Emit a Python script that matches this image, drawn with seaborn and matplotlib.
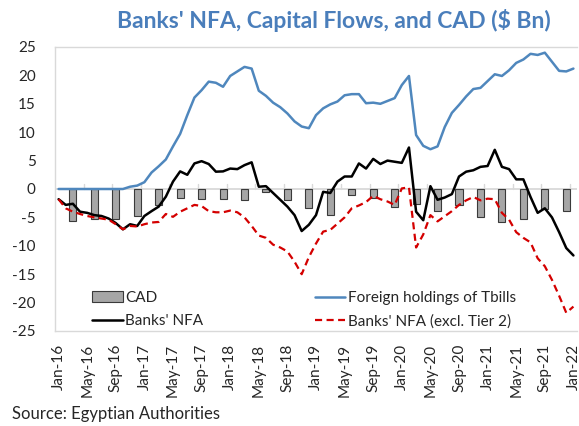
import numpy as np
import pandas as pd
import seaborn as sns
import matplotlib.pyplot as plt
from matplotlib.patches import Patch
from matplotlib.lines import Line2D

# monthly data, Jan-16 .. Jan-22 ($ Bn)
months = pd.date_range("2016-01-01", periods=73, freq="MS")
month_labels = [m.strftime("%b-%y") for m in months]

tbills = [0.0, 0.0, 0.0, 0.0, 0.0, 0.0, 0.0, 0.0, 0.0, 0.0,
          0.4, 0.6, 1.2, 2.9, 4.0, 5.2, 7.5, 9.7, 13.0, 16.1,
          17.4, 18.9, 18.7, 18.0, 19.9, 20.7, 21.5, 21.2, 17.3, 16.4,
          15.2, 14.4, 13.3, 11.9, 11.0, 10.7, 13.0, 14.2, 14.9, 15.4,
          16.5, 16.7, 16.7, 15.1, 15.2, 15.0, 15.5, 16.0, 18.3, 19.9,
          9.5, 7.6, 7.0, 7.5, 10.9, 13.4, 14.8, 16.3, 17.6, 17.8,
          19.0, 20.2, 19.9, 20.9, 22.2, 22.8, 23.8, 23.6, 24.0, 22.4,
          20.8, 20.7, 21.2]

banks_nfa = [-1.8, -2.8, -2.6, -4.0, -4.2, -4.6, -4.75, -5.2, -6.0, -7.1,
             -6.2, -6.5, -4.75, -3.9, -3.1, -1.35, 1.3, 3.1, 2.5, 4.5,
             4.9, 4.4, 3.05, 3.1, 3.6, 3.5, 4.2, 4.7, 0.4, 0.5,
             -0.7, -1.9, -3.1, -4.6, -7.4, -6.3, -4.6, -0.5, -0.7, 1.3,
             2.2, 2.2, 4.5, 3.6, 5.3, 4.4, 5.0, 4.8, 4.6, 7.3,
             -4.0, -5.5, 0.5, -1.9, -1.5, -0.9, 2.2, 3.05, 3.3, 3.9,
             4.05, 6.9, 3.9, 3.5, 1.7, 1.7, -1.4, -4.2, -3.4, -5.0,
             -7.6, -10.4, -11.7]

banks_nfa_ex_t2 = [-1.8, -3.4, -4.0, -4.4, -4.75, -5.0, -5.2, -5.4, -6.2, -7.1,
                   -6.5, -6.6, -6.2, -5.9, -5.8, -4.4, -4.9, -4.0, -3.4, -2.8,
                   -3.0, -3.9, -4.1, -4.1, -3.8, -4.1, -5.0, -6.5, -8.2, -8.6,
                   -9.8, -10.3, -11.0, -12.8, -15.0, -12.0, -9.6, -7.5, -7.2, -6.1,
                   -5.0, -3.4, -2.9, -2.3, -1.2, -1.8, -2.2, -2.8, 0.1, 0.3,
                   -10.3, -8.0, -4.6, -5.7, -4.8, -3.9, -2.8, -2.0, -1.4, -2.0,
                   -1.7, -1.8, -4.2, -5.4, -7.6, -8.6, -9.4, -12.2, -13.6, -16.0,
                   -18.8, -21.8, -20.7]

# quarterly current account deficit (Mar-16 .. Dec-21)
cad_months = list(range(2, 72, 3))
cad = [-5.7, -5.3, -5.3, -4.75, -2.9, -1.5, -1.8, -1.8, -1.9, -0.5,
       -1.9, -3.3, -4.6, -1.1, -1.5, -3.2, -2.7, -3.9, -2.8, -4.9,
       -5.75, -5.2, -3.5, -3.8]

BLUE = "#4f87bd"
RED = "#d40000"
TITLE_BLUE = "#4a7ebb"
GRID = "#d9d9d9"

sns.set_theme(style="white")
plt.rcParams["font.family"] = ["Lato", "DejaVu Sans"]
plt.rcParams["axes.unicode_minus"] = False

fig = plt.figure(figsize=(5.79, 4.26), dpi=100)
ax = fig.add_axes([55 / 579, 1 - 331 / 426, 522 / 579, 284 / 426])

x = np.arange(len(months))
df = pd.DataFrame({"i": x, "tbills": tbills, "nfa": banks_nfa, "nfa_ex": banks_nfa_ex_t2})
cad_df = pd.DataFrame({"i": cad_months, "cad": cad})

sns.barplot(data=cad_df, x="i", y="cad", native_scale=True, width=0.33,
            color="#a6a6a6", edgecolor="#3a3a3a", linewidth=0.8,
            saturation=1, errorbar=None, ax=ax, zorder=2)
ax.axhline(0, color=GRID, lw=1.3, zorder=1)
for k in range(1, 19):
    ax.plot([4 * k - 0.5] * 2, [0, 0.9], color=GRID, lw=1, zorder=1)

sns.lineplot(data=df, x="i", y="tbills", color=BLUE, lw=1.8, ax=ax, zorder=3)
sns.lineplot(data=df, x="i", y="nfa", color="black", lw=1.8, ax=ax, zorder=4)
sns.lineplot(data=df, x="i", y="nfa_ex", color=RED, lw=1.6, ax=ax, zorder=5,
             dashes=False)
ax.lines[-1].set_dashes([3.2, 2.0])

ax.set_xlim(-0.5, 72.5)
ax.set_ylim(-25, 25)
ax.set_yticks(range(-25, 26, 5))
ax.set_xticks(x[::4])
ax.set_xticklabels(month_labels[::4], rotation=90)
ax.set_xlabel("")
ax.set_ylabel("")
ax.tick_params(axis="y", direction="in", length=3, color=GRID, pad=14,
               labelsize=11, labelcolor="#262626")
ax.tick_params(axis="x", length=0, pad=9, labelsize=11, labelcolor="#262626")
for s in ax.spines.values():
    s.set_color(GRID)
    s.set_linewidth(1)
ax.spines["right"].set_visible(False)

handles = [Patch(facecolor="#a6a6a6", edgecolor="#3a3a3a", lw=0.8),
           Line2D([], [], color="black", lw=1.8),
           Line2D([], [], color=BLUE, lw=1.8),
           Line2D([], [], color=RED, lw=1.6, dashes=[3.2, 2.0])]
labels = ["CAD", "Banks' NFA", "Foreign holdings of Tbills", "Banks' NFA (excl. Tier 2)"]
ax.legend(handles, labels, ncol=2, loc="lower left", bbox_to_anchor=(0.045, -0.04),
          frameon=False, fontsize=11, handlelength=2.0, handletextpad=0.15,
          columnspacing=7.3, labelspacing=0.6, labelcolor="#262626")

fig.text(334 / 579, 1 - 20 / 426, "Banks' NFA, Capital Flows, and CAD ($ Bn)",
         ha="center", va="center", fontsize=16.5, fontweight="bold", color=TITLE_BLUE)
fig.text(12 / 579, 1 - 414 / 426, "Source: Egyptian Authorities",
         ha="left", va="center", fontsize=12, color="#262626")

fig.savefig("out.png", dpi=100)
